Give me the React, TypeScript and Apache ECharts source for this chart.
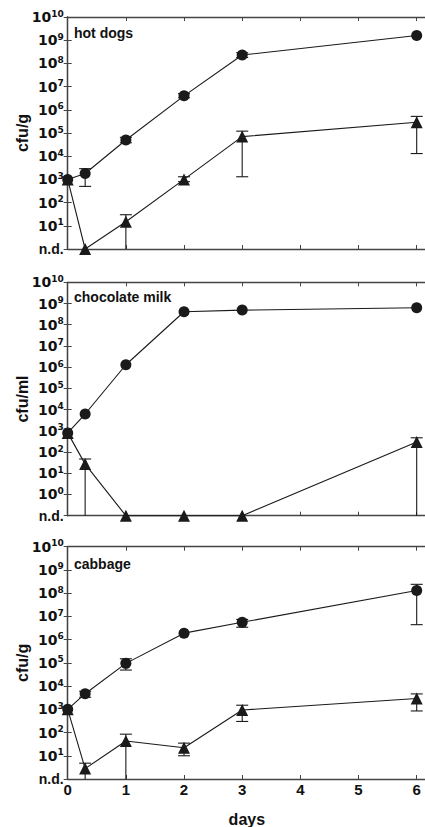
import React, { useEffect, useRef } from "react";
import * as echarts from "echarts";

const days = [0, 0.3, 1, 2, 3, 6];
const xTicks = [0, 1, 2, 3, 4, 5, 6];

// hot dogs (panel minimum = n.d. = 1)
const ndHot = 1;
const hotCircle = [1000, 1800, 5e4, 4e6, 2.3e8, 1.6e9];
const hotCircleHigh = [null, 2900, 6.5e4, 5e6, 2.9e8, null];
const hotCircleLow = [null, 500, 3.8e4, 3.3e6, 1.8e8, null];
const hotTri = [1000, 1, 15, 1000, 7e4, 2.9e5];
const hotTriHigh = [null, null, 30, 1300, 1.2e5, 5.2e5];
const hotTriLow = [null, null, 1, 800, 1300, 1.3e4];

// chocolate milk (panel minimum = n.d. = 0.1)
const ndMilk = 0.1;
const milkCircle = [800, 6200, 1.3e6, 4.1e8, 4.9e8, 6.3e8];
const milkTri = [800, 27, 0.1, 0.1, 0.1, 300];
const milkTriHigh = [null, 47, null, null, null, 470];
const milkTriLow = [null, 0.1, null, null, null, 0.1];

// cabbage (panel minimum = n.d. = 1)
const ndCab = 1;
const cabCircle = [1000, 4700, 9.5e4, 1.9e6, 5.6e6, 1.3e8];
const cabCircleHigh = [null, 6000, 1.5e5, null, 7.4e6, 2.4e8];
const cabCircleLow = [null, 3300, 4.9e4, null, 3.4e6, 4.4e6];
const cabTri = [1000, 2.8, 43, 22, 930, 2900];
const cabTriHigh = [null, 4.8, 85, 35, 1500, 4600];
const cabTriLow = [null, 1, 1, 10, 300, 850];

const yTicksHot = [1, 1e1, 1e2, 1e3, 1e4, 1e5, 1e6, 1e7, 1e8, 1e9, 1e10];
const yTicksMilk = [0.1, 1, 1e1, 1e2, 1e3, 1e4, 1e5, 1e6, 1e7, 1e8, 1e9, 1e10];
const yTicksCab = [1, 1e1, 1e2, 1e3, 1e4, 1e5, 1e6, 1e7, 1e8, 1e9, 1e10];

const titles = ["hot dogs", "chocolate milk", "cabbage"];
const yNames = ["cfu/g", "cfu/ml", "cfu/g"];

const INK = "#1a1a1a";
const AXIS = "#444";
const FONT = "Liberation Sans, Arial, sans-serif";
const WIDE = "DejaVu Sans, sans-serif";

export default function App() {
  const ref = useRef<HTMLDivElement>(null);
  useEffect(() => {
    if (!ref.current) return;
    const chart = echarts.init(ref.current, null, { renderer: "svg" });

    const grids = [
      { top: 17, height: 232 },
      { top: 282.3, height: 233.4 },
      { top: 546.7, height: 232.3 },
    ];
    const mins = [ndHot, ndMilk, ndCab];
    const yTicks = [yTicksHot, yTicksMilk, yTicksCab];
    const xMax = 6.16;

    const xAxes: any[] = [];
    const yAxes: any[] = [];
    grids.forEach((g, i) => {
      const last = i === 2;
      xAxes.push({
        type: "value",
        gridIndex: i,
        min: 0,
        max: xMax,
        interval: 1,
        position: "bottom",
        axisLine: { show: true, lineStyle: { color: AXIS, width: 1.3 } },
        axisTick: { show: true, inside: true, length: 4, lineStyle: { color: AXIS } },
        splitLine: { show: false },
        axisLabel: {
          show: last,
          margin: 3,
          color: "#111",
          fontFamily: FONT,
          fontWeight: "bold",
          fontSize: 15,
          showMaxLabel: false,
          formatter: (v: number) => (xTicks.includes(v) ? String(v) : ""),
        },
        name: last ? "days" : "",
        nameLocation: "middle",
        nameGap: 32,
        nameMoveOverlap: false,
        nameTextStyle: { fontFamily: FONT, fontWeight: "bold", fontSize: 16, color: "#111" },
      });
      xAxes.push({
        type: "value",
        gridIndex: i,
        min: 0,
        max: xMax,
        interval: 1,
        position: "top",
        axisLine: { show: true, lineStyle: { color: AXIS, width: 1.3 } },
        axisTick: { show: true, inside: true, length: 4, lineStyle: { color: AXIS } },
        splitLine: { show: false },
        axisLabel: { show: false },
      });
      const mn = mins[i];
      yAxes.push({
        type: "log",
        logBase: 10,
        gridIndex: i,
        min: mn,
        max: 1e10,
        position: "left",
        axisLine: { show: true, lineStyle: { color: AXIS, width: 1.3 } },
        axisTick: { show: true, inside: true, length: 4, lineStyle: { color: AXIS }, customValues: yTicks[i] },
        splitLine: { show: false },
        minorTick: { show: false },
        axisLabel: {
          customValues: yTicks[i],
          margin: 4,
          color: "#111",
          fontFamily: FONT,
          formatter: (v: number) => {
            const n = Math.round(Math.log10(v));
            if (Math.abs(v - mn) / mn < 1e-6) return "{n|n.d.}";
            return "{b|10}{s|" + n + "}";
          },
          rich: {
            n: { fontFamily: FONT, fontWeight: "bold", fontSize: 14, color: "#111", lineHeight: 16 },
            b: { fontFamily: WIDE, fontWeight: "bold", fontSize: 14, color: "#111", lineHeight: 16 },
            s: { fontFamily: WIDE, fontWeight: "bold", fontSize: 9, color: "#111", verticalAlign: "top", lineHeight: 9 },
          },
        },
        name: yNames[i],
        nameLocation: "middle",
        nameGap: 37,
        nameMoveOverlap: false,
        nameTextStyle: { fontFamily: FONT, fontWeight: "bold", fontSize: 16, color: "#111" },
      });
      yAxes.push({
        type: "log",
        logBase: 10,
        gridIndex: i,
        min: mn,
        max: 1e10,
        position: "right",
        axisLine: { show: true, lineStyle: { color: AXIS, width: 1.3 } },
        axisTick: { show: true, inside: true, length: 4, lineStyle: { color: AXIS }, customValues: yTicks[i] },
        splitLine: { show: false },
        axisLabel: { show: false, customValues: yTicks[i] },
      });
    });

    const errData = (vals: (number | null)[], hi: (number | null)[], lo: (number | null)[]) =>
      days
        .map((d, k) => (hi[k] != null && lo[k] != null ? [d, lo[k], hi[k]] : null))
        .filter((x) => x != null);

    const errSeries = (i: number, data: any[]) => ({
      type: "custom",
      xAxisIndex: i * 2,
      yAxisIndex: i * 2,
      z: 1,
      silent: true,
      encode: { x: 0, y: [1, 2] },
      data,
      renderItem: (params: any, api: any) => {
        const x = api.value(0);
        const lo = api.value(1);
        const hi = api.value(2);
        const p1 = api.coord([x, lo]);
        const p2 = api.coord([x, hi]);
        const w = 6;
        const st = { stroke: INK, lineWidth: 1.1 };
        const children: any[] = [
          { type: "line", shape: { x1: p1[0], y1: p1[1], x2: p2[0], y2: p2[1] }, style: st },
          { type: "line", shape: { x1: p2[0] - w, y1: p2[1], x2: p2[0] + w, y2: p2[1] }, style: st },
        ];
        if (Math.abs(lo - mins[i]) / mins[i] > 1e-6) {
          children.push({ type: "line", shape: { x1: p1[0] - w, y1: p1[1], x2: p1[0] + w, y2: p1[1] }, style: st });
        }
        return { type: "group", children };
      },
    });

    const lineSeries = (i: number, vals: number[], symbol: string, size: number) => ({
      type: "line",
      xAxisIndex: i * 2,
      yAxisIndex: i * 2,
      z: 3,
      data: days.map((d, k) => [d, vals[k]]),
      symbol,
      symbolSize: size,
      showAllSymbol: true,
      clip: false,
      itemStyle: { color: INK, borderWidth: 0 },
      lineStyle: { color: INK, width: 1.1 },
    });

    const series: any[] = [
      errSeries(0, errData(hotCircle, hotCircleHigh, hotCircleLow)),
      errSeries(0, errData(hotTri, hotTriHigh, hotTriLow)),
      lineSeries(0, hotTri, "triangle", 12),
      lineSeries(0, hotCircle, "circle", 11),
      errSeries(1, errData(milkTri, milkTriHigh, milkTriLow)),
      lineSeries(1, milkTri, "triangle", 12),
      lineSeries(1, milkCircle, "circle", 11),
      errSeries(2, errData(cabCircle, cabCircleHigh, cabCircleLow)),
      errSeries(2, errData(cabTri, cabTriHigh, cabTriLow)),
      lineSeries(2, cabTri, "triangle", 12),
      lineSeries(2, cabCircle, "circle", 11),
    ];

    const titleTops = [26, 290, 557];
    chart.setOption({
      animation: false,
      backgroundColor: "#fff",
      title: titles.map((t, i) => ({
        text: t,
        left: 74,
        top: titleTops[i],
        padding: 0,
        textStyle: { fontFamily: FONT, fontWeight: "bold", fontSize: 14, color: "#111" },
      })),
      grid: grids.map((g) => ({
        left: 67.7,
        right: -1,
        top: g.top,
        height: g.height,
        containLabel: false,
        outerBoundsMode: "none",
      })),
      xAxis: xAxes,
      yAxis: yAxes,
      series,
    });
    return () => chart.dispose();
  }, []);
  return (
    <div
      ref={ref}
      style={{ position: "fixed", left: 0, top: 0, width: 425, height: 827, background: "#fff" }}
    />
  );
}
